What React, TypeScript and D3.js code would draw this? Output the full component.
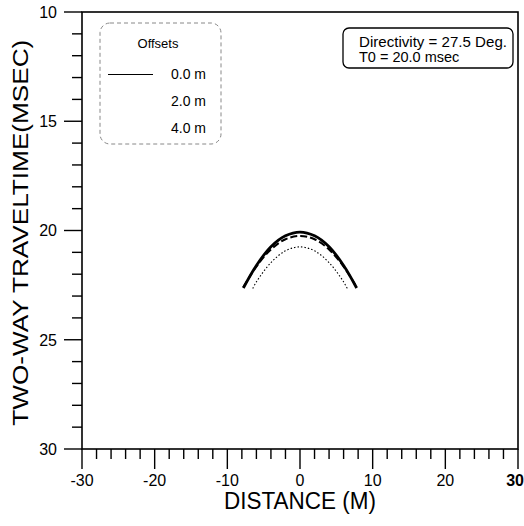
import React, { useEffect, useRef } from "react";
import * as d3 from "d3";

// distances (m) and two-way traveltimes (msec)
const distances0 = [-7.8, -6, -4, -2, 0, 2, 4, 6, 7.8];
const times0 = [22.63, 21.6, 20.74, 20.24, 20.07, 20.24, 20.74, 21.6, 22.63];
const distances2 = [-7.8, -6, -4, -2, 0, 2, 4, 6, 7.8];
const times2 = [22.6, 21.65, 20.87, 20.4, 20.25, 20.4, 20.87, 21.65, 22.6];
const distances4 = [-6.5, -6, -4, -2, 0, 2, 4, 6, 6.5];
const times4 = [22.65, 22.35, 21.47, 20.93, 20.75, 20.93, 21.47, 22.35, 22.65];

const xTicks = [-30, -20, -10, 0, 10, 20, 30];
const yTicks = [10, 15, 20, 25, 30];
const legendLabels = ["0.0 m", "2.0 m", "4.0 m"];

export default function App() {
  const ref = useRef<SVGSVGElement>(null);

  useEffect(() => {
    if (!ref.current) return;
    const width = 524;
    const height = 526;
    const svg = d3.select(ref.current);
    svg.selectAll("*").remove();
    svg.attr("width", width).attr("height", height);

    const x = d3.scaleLinear().domain([-30, 30]).range([82, 518]);
    const y = d3.scaleLinear().domain([10, 30]).range([12, 449]);
    const font = "Liberation Sans, Arial, sans-serif";

    const g = svg.append("g");

    // frame
    g.append("rect")
      .attr("x", x(-30)).attr("y", y(10))
      .attr("width", x(30) - x(-30)).attr("height", y(30) - y(10))
      .attr("fill", "none").attr("stroke", "#000").attr("stroke-width", 1.6);

    // y ticks (outside, left)
    d3.range(10, 31, 1).forEach((v) => {
      const major = v % 5 === 0;
      g.append("line")
        .attr("x1", x(-30) - (major ? 18 : 10)).attr("x2", x(-30))
        .attr("y1", y(v)).attr("y2", y(v))
        .attr("stroke", "#000").attr("stroke-width", 1.4);
    });
    g.selectAll(".ylab").data(yTicks).enter().append("text")
      .attr("x", 57).attr("y", (d) => y(d)).attr("dy", "0.36em")
      .attr("text-anchor", "end").attr("font-family", font)
      .attr("font-size", 16).text((d) => d);

    // x ticks (downward)
    d3.range(-30, 31, 2).forEach((v) => {
      const major = v % 10 === 0;
      g.append("line")
        .attr("x1", x(v)).attr("x2", x(v))
        .attr("y1", y(30)).attr("y2", y(30) + (major ? 20 : 10))
        .attr("stroke", "#000").attr("stroke-width", 1.4);
    });
    g.selectAll(".xlab").data(xTicks).enter().append("text")
      .attr("x", (d) => (d === 30 ? 524 : x(d)))
      .attr("y", 486)
      .attr("text-anchor", (d) => (d === 30 ? "end" : "middle"))
      .attr("font-family", font)
      .attr("font-size", 16)
      .attr("font-weight", (d) => (d === 30 ? "bold" : "normal"))
      .text((d) => d);

    // axis titles
    g.append("text")
      .attr("x", x(0)).attr("y", 509)
      .attr("text-anchor", "middle").attr("font-family", font)
      .attr("font-size", 23)
      .attr("textLength", 152).attr("lengthAdjust", "spacingAndGlyphs")
      .text("DISTANCE (M)");
    g.append("text")
      .attr("transform", `translate(28,${y(20.1)}) rotate(-90)`)
      .attr("text-anchor", "middle").attr("font-family", font)
      .attr("font-size", 22)
      .attr("textLength", 386).attr("lengthAdjust", "spacingAndGlyphs")
      .text("TWO-WAY TRAVELTIME(MSEC)");

    // curves
    const line = d3.line<[number, number]>()
      .x((d) => x(d[0])).y((d) => y(d[1]))
      .curve(d3.curveCatmullRom);
    const series = [
      { xs: distances0, ts: times0, width: 2.8, dash: null },
      { xs: distances2, ts: times2, width: 2, dash: "7,3" },
      { xs: distances4, ts: times4, width: 1.1, dash: "1.5,2" },
    ];
    series.forEach((s) => {
      const pts = s.xs.map((d, i) => [d, s.ts[i]] as [number, number]);
      g.append("path")
        .attr("d", line(pts))
        .attr("fill", "none").attr("stroke", "#000")
        .attr("stroke-width", s.width)
        .attr("stroke-dasharray", s.dash);
    });

    // legend
    g.append("rect")
      .attr("x", 100).attr("y", 23).attr("width", 121).attr("height", 121)
      .attr("rx", 10).attr("fill", "none").attr("stroke", "#888")
      .attr("stroke-width", 1).attr("stroke-dasharray", "4,3");
    g.append("text")
      .attr("x", 158).attr("y", 48).attr("text-anchor", "middle")
      .attr("font-family", font).attr("font-size", 13)
      .text("Offsets");
    g.append("line")
      .attr("x1", 108).attr("x2", 153).attr("y1", 74.5).attr("y2", 74.5)
      .attr("stroke", "#000").attr("stroke-width", 1);
    g.selectAll(".leg").data(legendLabels).enter().append("text")
      .attr("x", 171).attr("y", (d, i) => 79 + i * 27)
      .attr("font-family", font).attr("font-size", 14).text((d) => d);

    // annotation box
    g.append("rect")
      .attr("x", 343).attr("y", 28).attr("width", 170).attr("height", 40)
      .attr("rx", 6).attr("fill", "#fff").attr("stroke", "#000")
      .attr("stroke-width", 1.3);
    g.append("text")
      .attr("x", 359).attr("y", 47)
      .attr("font-family", font).attr("font-size", 14.5)
      .attr("textLength", 148).attr("lengthAdjust", "spacingAndGlyphs")
      .text("Directivity = 27.5 Deg.");
    g.append("text")
      .attr("x", 359).attr("y", 62)
      .attr("font-family", font).attr("font-size", 14.5)
      .text("T0 = 20.0 msec");
  }, []);

  return (
    <div style={{ position: "absolute", left: 0, top: 0 }}>
      <svg ref={ref} style={{ display: "block", background: "#fff" }} />
    </div>
  );
}
